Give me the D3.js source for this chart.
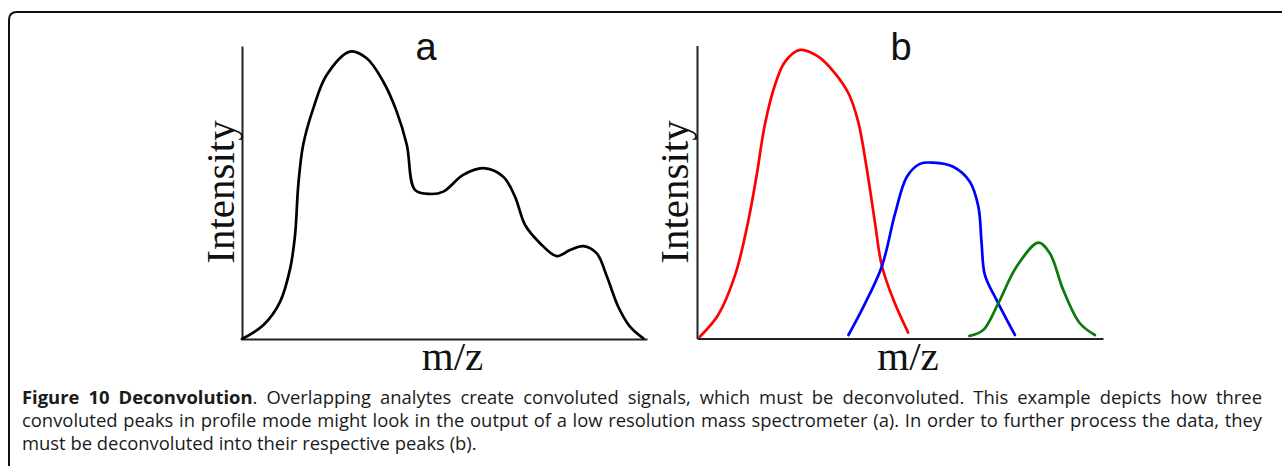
<!DOCTYPE html>
<html>
<head>
<meta charset="utf-8">
<script src="https://cdn.jsdelivr.net/npm/d3@7"></script>
<style>
  html, body { margin: 0; padding: 0; background: #fff; }
  svg { display: block; }
</style>
</head>
<body>
<svg id="fig" width="1282" height="466"></svg>
<script>
// Panel a: convoluted profile signal (m/z vs. intensity, arbitrary units 0–100)
const convMz  = [0, 5.3, 9.4, 11.9, 13.1, 13.9, 15.1, 17.6, 20.9, 26.7, 30.8, 34.9, 38.2, 40.7, 42.7,
                 46.4, 49.7, 54.6, 59.6, 64.5, 67.4, 69.9, 73.6, 77.7, 81.0, 84.3, 87.6, 90.1, 92.9, 95.8, 99.1];
const convInt = [0, 4.8, 12.7, 24.1, 35.5, 52.6, 66.2, 78.7, 90.1, 98.1, 95.8, 87.8, 77.6, 66.2, 50.9,
                 49.5, 50.3, 56.0, 58.3, 55.4, 48.6, 38.9, 32.7, 28.3, 30.4, 31.7, 29.2, 21.3, 11.0, 4.2, 0.2];

// Panel b: the three deconvoluted peaks
const redMz    = [0.7, 5.2, 9.4, 12.6, 14.7, 16.7, 19.2, 21.7, 25.4, 29.9, 34.0, 37.3, 39.7, 41.8, 43.8, 45.5, 48.4, 52.0];
const redInt   = [0.6, 8.0, 21.7, 39.9, 55.8, 72.9, 86.5, 94.5, 98.5, 96.2, 90.5, 83.7, 74.0, 58.1, 39.9, 25.0, 13.1, 2.0];
const blueMz   = [37.3, 41.0, 45.5, 48.8, 51.7, 54.9, 58.2, 63.1, 67.2, 69.3, 70.1, 70.9, 73.8, 78.3];
const blueInt  = [1.2, 10.9, 24.5, 42.7, 55.2, 59.6, 60.0, 58.6, 53.5, 45.0, 32.5, 21.7, 13.1, 1.2];
const greenMz  = [67.1, 70.5, 74.2, 78.7, 84.1, 86.9, 90.2, 94.3, 98.0];
const greenInt = [0.9, 2.9, 12.0, 24.5, 32.7, 29.1, 16.6, 5.2, 1.2];

const panelLabels = ["a", "b"];
const xTitle = "m/z";
const yTitle = "Intensity";

// Caption: each line is a list of words, each word a list of [text, bold] runs
const captionLines = [
  [[["Figure", true]], [["10", true]], [["Deconvolution", true], [".", false]],
   ..."Overlapping analytes create convoluted signals, which must be deconvoluted. This example depicts how three"
     .split(" ").map(w => [[w, false]])],
  "convoluted peaks in profile mode might look in the output of a low resolution mass spectrometer (a). In order to further process the data, they"
     .split(" ").map(w => [[w, false]]),
  "must be deconvoluted into their respective peaks (b)."
     .split(" ").map(w => [[w, false]])
];

const svg = d3.select("#fig");

// Frame with a rounded top-left corner
svg.append("path")
  .attr("d", "M9,466 L9,20 Q9,12 17,12 L1282,12")
  .attr("fill", "none")
  .attr("stroke", "#111")
  .attr("stroke-width", 2);

const panels = [
  { left: 242, right: 647, bottom: 339, top: 46, label: panelLabels[0], labelX: 426, titleX: 220,
    series: [{ mz: convMz, val: convInt, color: "#000" }] },
  { left: 697, right: 1103, bottom: 338.5, top: 45.5, label: panelLabels[1], labelX: 901, titleX: 674,
    series: [
      { mz: redMz, val: redInt, color: "#ff0000" },
      { mz: blueMz, val: blueInt, color: "#0000ff" },
      { mz: greenMz, val: greenInt, color: "#0a7a0a" }
    ] }
];

panels.forEach(p => {
  const x = d3.scaleLinear().domain([0, 100]).range([p.left, p.right]);
  const y = d3.scaleLinear().domain([0, 100]).range([p.bottom, p.bottom - 293]);
  const g = svg.append("g");

  // Plain axes: no ticks, just the lines
  g.append("g")
    .attr("transform", `translate(0,${p.bottom})`)
    .call(d3.axisBottom(x).tickValues([]).tickSizeOuter(0))
    .call(s => s.select(".domain").attr("stroke", "#222").attr("stroke-width", 2));
  g.append("g")
    .attr("transform", `translate(${p.left},0)`)
    .call(d3.axisLeft(d3.scaleLinear().domain([0, 1]).range([p.bottom, p.top])).tickValues([]).tickSizeOuter(0))
    .call(s => s.select(".domain").attr("stroke", "#222").attr("stroke-width", 2));

  const line = d3.line()
    .x(d => x(d[0]))
    .y(d => y(d[1]))
    .curve(d3.curveCatmullRom.alpha(0.5));

  p.series.forEach(s => {
    g.append("path")
      .datum(d3.zip(s.mz, s.val))
      .attr("d", line)
      .attr("fill", "none")
      .attr("stroke", s.color)
      .attr("stroke-width", 2.7)
      .attr("stroke-linejoin", "round")
      .attr("stroke-linecap", "round");
  });

  g.append("text")
    .attr("x", p.labelX)
    .attr("y", 60)
    .attr("text-anchor", "middle")
    .attr("font-family", "'Liberation Sans', Arial, sans-serif")
    .attr("font-size", 38)
    .attr("fill", "#111")
    .text(p.label);

  g.append("text")
    .attr("x", (p.left + p.right) / 2 + 8)
    .attr("y", 370)
    .attr("text-anchor", "middle")
    .attr("font-family", "'Liberation Serif', 'Times New Roman', serif")
    .attr("font-size", 41)
    .attr("fill", "#111")
    .text(xTitle);

  g.append("text")
    .attr("transform", `translate(${p.titleX + 14},192) rotate(-90)`)
    .attr("text-anchor", "middle")
    .attr("font-family", "'Liberation Serif', 'Times New Roman', serif")
    .attr("font-size", 41)
    .attr("fill", "#111")
    .text(yTitle);
});

// Caption, justified between captionLeft and captionRight (last line left-aligned)
const captionLeft = 22, captionRight = 1262;
const baselines = [404, 427, 450];
const cap = svg.append("g")
  .attr("font-family", "'Open Sans', 'Noto Sans', sans-serif")
  .attr("font-size", 18.4)
  .attr("fill", "#1a1a1a");

captionLines.forEach((words, li) => {
  const nodes = words.map(runs => {
    const t = cap.append("text").attr("y", baselines[li]);
    runs.forEach(([txt, bold]) => {
      t.append("tspan").attr("font-weight", bold ? 700 : 400).text(txt);
    });
    return t;
  });
  const widths = nodes.map(n => n.node().getComputedTextLength());
  const total = d3.sum(widths);
  const last = li === captionLines.length - 1;
  const gap = last ? 4.8 : (captionRight - captionLeft - total) / (words.length - 1);
  let cx = captionLeft;
  nodes.forEach((n, i) => {
    n.attr("x", cx);
    cx += widths[i] + gap;
  });
});
</script>
</body>
</html>
